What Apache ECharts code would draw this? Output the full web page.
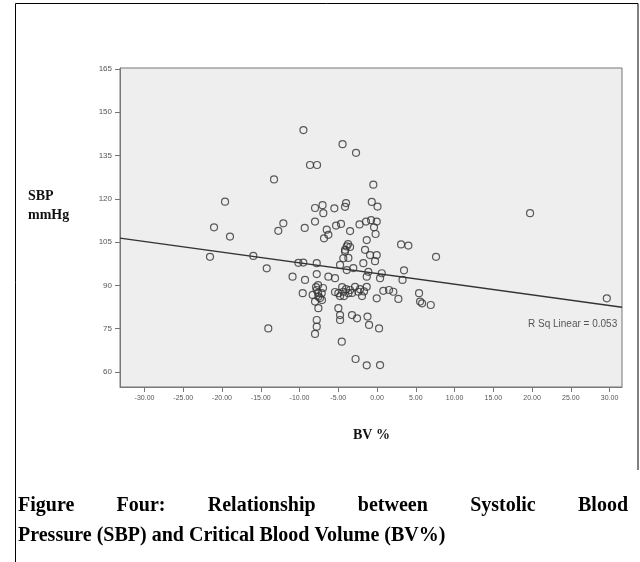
<!DOCTYPE html>
<html>
<head>
	<meta http-equiv="Content-Type" content="text/html;charset=utf-8" />
	<title>SBP x BV%</title>
	<script src="https://cdnjs.cloudflare.com/ajax/libs/echarts/6.0.0/echarts.min.js"></script>
	<style>
		body { margin:0; background:#fff; }
	</style>
</head>
<body>
	<div id="grafico" style="width:640px; height:562px;"></div>
	<script>

		// valores (BV %, SBP mmHg)
		var bv = [
			-9.5, -4.45, -2.71, -8.65, -7.74, -13.29, -0.48, 19.74, -19.61, -21.03,
			-18.97, -8.0, -7.03, -6.93, -5.51, -4.0, -4.13, -0.68, 0.06, -8.0,
			-12.09, -12.74, -9.33, -6.49, -6.28, -5.29, -4.65, -3.48, -2.26, -1.42,
			-0.77, -0.04, -0.39, -0.19, -3.74, -6.84, -1.33, 3.10, 4.04, 7.61,
			-21.55, -15.96, -14.23, -3.91, -4.13, -4.35, -1.55, -0.04, -0.26, -10.15,
			-9.51, -7.78, -10.90, -9.29, -7.78, -6.28, -5.42, -4.77, -3.91, -3.06,
			-1.77, -1.12, 0.39, 0.61, 3.48, 3.29, -9.59, -7.78, -7.57, -8.0,
			-7.14, -4.99, -4.35, -3.70, -2.84, -2.41, -1.68, -1.33, -0.04, 0.81,
			1.55, 2.10, 2.75, 5.42, 5.55, 5.81, 6.93, -7.57, -4.99, -4.77,
			-4.77, -3.23, -2.58, -1.23, -1.03, 0.26, -7.78, -7.78, -8.0, -14.03,
			-4.55, -2.77, -1.33, 0.39, 29.64, -1.33, -7.35, -6.97, -4.26, -3.48,
			-5.42, -1.94, -7.6, -3.7, -4.5, -8.3, -7.61, -7.10, -7.87, -4.77,
			-4.0, -3.23, -2.19, -4.13, -3.48, -0.9
		];
		var sbp = [
			143.8, 138.9, 135.9, 131.7, 131.7, 126.7, 124.9, 115.0, 119.0, 110.1,
			106.9, 116.8, 117.8, 115.0, 116.7, 118.5, 117.2, 118.9, 117.3, 112.1,
			111.5, 108.9, 109.9, 109.3, 107.5, 110.7, 111.3, 108.8, 111.1, 112.1,
			112.6, 112.1, 110.1, 107.8, 104.3, 106.3, 105.7, 104.2, 103.8, 99.9,
			99.9, 100.2, 95.9, 103.5, 101.7, 99.4, 102.3, 100.5, 98.4, 97.8,
			97.9, 97.7, 93.0, 91.9, 93.9, 93.0, 92.5, 97.1, 95.3, 96.0,
			97.7, 94.7, 92.5, 94.2, 95.2, 91.9, 87.3, 88.4, 86.1, 84.4,
			87.3, 87.3, 87.8, 87.3, 89.5, 87.8, 87.9, 89.5, 85.5, 88.1,
			88.4, 87.8, 85.3, 87.3, 84.4, 83.8, 83.2, 82.1, 82.1, 79.7,
			78.0, 79.7, 78.6, 79.2, 76.3, 75.1, 78.0, 75.7, 73.2, 75.1,
			70.5, 64.5, 62.3, 62.4, 85.5, 93.0, 85.6, 89.1, 86.3, 88.4,
			87.7, 86.3, 90.1, 99.5, 89.4, 86.7, 87.4, 84.9, 89.4, 86.3,
			88.7, 87.4, 88.7, 102.3, 103.3, 100.5
		];

		// ticks dos eixos
		var ticksX = [-30, -25, -20, -15, -10, -5, 0, 5, 10, 15, 20, 25, 30];
		var ticksY = [60, 75, 90, 105, 120, 135, 150, 165];

		// reta de regressão linear
		var retaIntercepto = 94.1;
		var retaInclinacao = -0.37;
		var rQuadrado = '0.053';

		var xMin = -33.16, xMax = 31.6;
		var yMin = 54.8, yMax = 165.3;

		var pontos = bv.map(function(v, i){ return [v, sbp[i]]; });
		var reta = [xMin, xMax].map(function(x){ return [x, retaIntercepto + retaInclinacao * x]; });

		var corEixo = '#777';
		var corLabel = '#555';
		var fonteSerif = '"Liberation Serif", "DejaVu Serif", serif';
		var fonteLegenda = 'bold 20px ' + fonteSerif;

		// primeira linha da legenda justificada: mede as palavras e distribui o espaço
		var palavras = ['Figure', 'Four:', 'Relationship', 'between', 'Systolic', 'Blood'];
		var ctx = document.createElement('canvas').getContext('2d');
		ctx.font = fonteLegenda;
		var larguras = palavras.map(function(p){ return ctx.measureText(p).width; });
		var soma = larguras.reduce(function(a, b){ return a + b; }, 0);
		var esq = 18, dir = 628;
		var espaco = (dir - esq - soma) / (palavras.length - 1);
		var posX = esq;
		var linha1 = palavras.map(function(p, i){
			var el = { type: 'text', x: posX, y: 496, style: { text: p, font: fonteLegenda, fill: '#000' } };
			posX += larguras[i] + espaco;
			return el;
		});

		var option = {
			animation: false,
			grid: { left: 120, right: 18, top: 68, bottom: 175, show: true, backgroundColor: '#eeeeee', borderColor: corEixo, borderWidth: 1 },
			xAxis: {
				type: 'value', min: xMin, max: xMax,
				axisLine: { show: true, onZero: false, lineStyle: { color: corEixo } },
				axisTick: { show: true, length: 5, customValues: ticksX, lineStyle: { color: corEixo } },
				axisLabel: { customValues: ticksX, fontSize: 7, color: corLabel, margin: 8, formatter: function(v){ return v.toFixed(2); } },
				splitLine: { show: false }
			},
			yAxis: {
				type: 'value', min: yMin, max: yMax,
				axisLine: { show: true, onZero: false, lineStyle: { color: corEixo } },
				axisTick: { show: true, length: 5, customValues: ticksY, lineStyle: { color: corEixo } },
				axisLabel: { customValues: ticksY, fontSize: 8, color: corLabel, margin: 8 },
				splitLine: { show: false }
			},
			series: [
				{
					type: 'scatter', data: pontos,
					symbol: 'circle', symbolSize: 7,
					itemStyle: { color: 'rgba(0,0,0,0)', borderColor: '#333', borderWidth: 1.2 },
					z: 3
				},
				{
					type: 'line', data: reta, symbol: 'none',
					lineStyle: { color: '#333', width: 1.4 },
					z: 4
				}
			],
			graphic: [
				// moldura externa
				{ type: 'polyline', shape: { points: [[638, 470], [638, 3.5], [15.5, 3.5], [15.5, 562]] }, style: { stroke: '#000', lineWidth: 1, fill: null } },
				{ type: 'text', left: 28, top: 189, style: { text: 'SBP', font: 'bold 14px ' + fonteSerif, fill: '#111' } },
				{ type: 'text', left: 28, top: 208, style: { text: 'mmHg', font: 'bold 14px ' + fonteSerif, fill: '#111' } },
				{ type: 'text', left: 353, top: 428, style: { text: 'BV %', font: 'bold 14px ' + fonteSerif, fill: '#111' } },
				{ type: 'text', left: 528, top: 319, style: { text: 'R Sq Linear = ' + rQuadrado, font: '10px sans-serif', fill: '#555' } },
				{ type: 'text', x: 18, y: 526, style: { text: 'Pressure (SBP) and Critical Blood Volume (BV%)', font: fonteLegenda, fill: '#000' } }
			].concat(linha1)
		};

		var grafico = echarts.init(document.getElementById('grafico'));
		option && grafico.setOption(option);

	</script>
</body>
</html>
